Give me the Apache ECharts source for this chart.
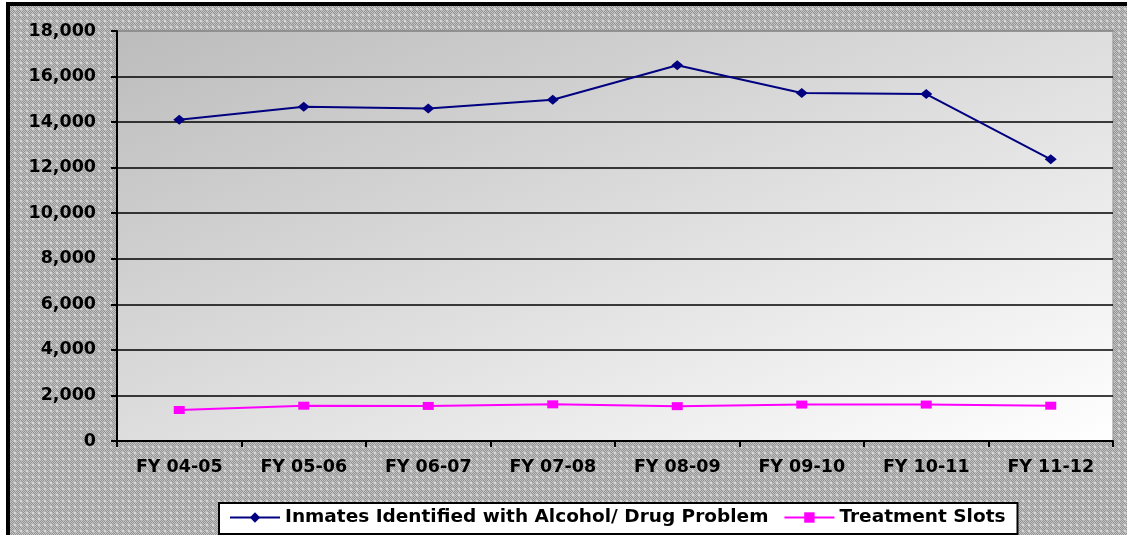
<!DOCTYPE html>
<html>
<head>
<meta charset="utf-8">
<script src="https://cdn.jsdelivr.net/npm/echarts@6/dist/echarts.min.js"></script>
<style>
html,body{margin:0;padding:0;background:#fff;}
#chart{width:1127px;height:535px;}
</style>
</head>
<body>
<div id="chart"></div>
<script>
var categories = ['FY 04-05','FY 05-06','FY 06-07','FY 07-08','FY 08-09','FY 09-10','FY 10-11','FY 11-12'];
var inmates = [14100, 14670, 14600, 14980, 16500, 15275, 15230, 12365];
var slots = [1360, 1550, 1540, 1610, 1530, 1600, 1600, 1550];
var seriesNames = ['Inmates Identified with Alcohol/ Drug Problem', 'Treatment Slots'];
var yMin = 0, yMax = 18000, yStep = 2000;

// crosshatch pattern for the outer background
var pc = document.createElement('canvas');
pc.width = 6; pc.height = 6;
var pctx = pc.getContext('2d');
for (var px = 0; px < 6; px++) {
  for (var py = 0; py < 6; py++) {
    var d = Math.abs(px - 2.5) + Math.abs(py - 2.5);
    var c;
    if (d <= 1) c = '#d6d6d6';
    else if (d <= 2) c = '#b4b4b4';
    else c = ((px + py) % 2 === 0) ? '#c4c4c4' : '#939393';
    pctx.fillStyle = c;
    pctx.fillRect(px, py, 1, 1);
  }
}

var font = '"DejaVu Sans", "Liberation Sans", Arial, sans-serif';
var chart = echarts.init(document.getElementById('chart'));
var splitColors = [];
for (var i = 0; i < (yMax - yMin) / yStep; i++) splitColors.push('#000');
splitColors.push('#8a8a8a');

// diagonal gradient whose isolines run from top-right to bottom-left of the plot
var gw = 996, gh = 410;
var gs = gw * gw + gh * gh;

chart.setOption({
  backgroundColor: {image: pc, repeat: 'repeat'},
  animation: false,
  graphic: [
    {type: 'rect', shape: {x: 0, y: 0, width: 1127, height: 2}, style: {fill: '#fff'}, silent: true},
    {type: 'rect', shape: {x: 0, y: 0, width: 6, height: 535}, style: {fill: '#fff'}, silent: true},
    {type: 'rect', shape: {x: 6, y: 2, width: 1121, height: 4}, style: {fill: '#000'}, silent: true},
    {type: 'rect', shape: {x: 6, y: 2, width: 4, height: 533}, style: {fill: '#000'}, silent: true}
  ],
  grid: {
    left: 117, right: 14, top: 31, bottom: 94,
    show: true,
    borderColor: '#8a8a8a', borderWidth: 1,
    backgroundColor: {
      type: 'linear', x: 0, y: 0, x2: 2 * gh * gh / gs, y2: 2 * gw * gw / gs,
      colorStops: [{offset: 0, color: '#bcbcbc'}, {offset: 1, color: '#ffffff'}]
    }
  },
  legend: {
    left: 219, top: 503,
    backgroundColor: '#fff',
    borderColor: '#000', borderWidth: 2, borderRadius: 0,
    padding: [5, 12, 7, 10],
    itemWidth: 50, itemHeight: 13, itemGap: 15,
    textStyle: {fontFamily: font, fontWeight: 'bold', fontSize: 18.5, color: '#000'},
    data: seriesNames
  },
  xAxis: {
    type: 'category',
    data: categories,
    boundaryGap: true,
    axisLine: {lineStyle: {color: '#000', width: 2}},
    axisTick: {show: true, length: 6, lineStyle: {color: '#000', width: 2}},
    axisLabel: {margin: 17, fontFamily: font, fontWeight: 'bold', fontSize: 17.5, color: '#000'},
    splitLine: {show: false}
  },
  yAxis: {
    type: 'value',
    min: yMin, max: yMax, interval: yStep,
    axisLine: {show: true, lineStyle: {color: '#000', width: 2}},
    axisTick: {show: true, length: 6, lineStyle: {color: '#000', width: 2}},
    axisLabel: {
      margin: 21, fontFamily: font, fontWeight: 'bold', fontSize: 17.5, color: '#000',
      formatter: function (v) { return v.toLocaleString('en-US'); }
    },
    splitLine: {show: true, lineStyle: {color: splitColors, width: 1.5}}
  },
  series: [
    {
      name: seriesNames[0], type: 'line', data: inmates,
      symbol: 'diamond', symbolSize: [12, 10],
      lineStyle: {color: '#000080', width: 2},
      itemStyle: {color: '#000080'}
    },
    {
      name: seriesNames[1], type: 'line', data: slots,
      symbol: 'rect', symbolSize: [11, 8],
      lineStyle: {color: '#ff00ff', width: 2},
      itemStyle: {color: '#ff00ff'}
    }
  ]
});
</script>
</body>
</html>
